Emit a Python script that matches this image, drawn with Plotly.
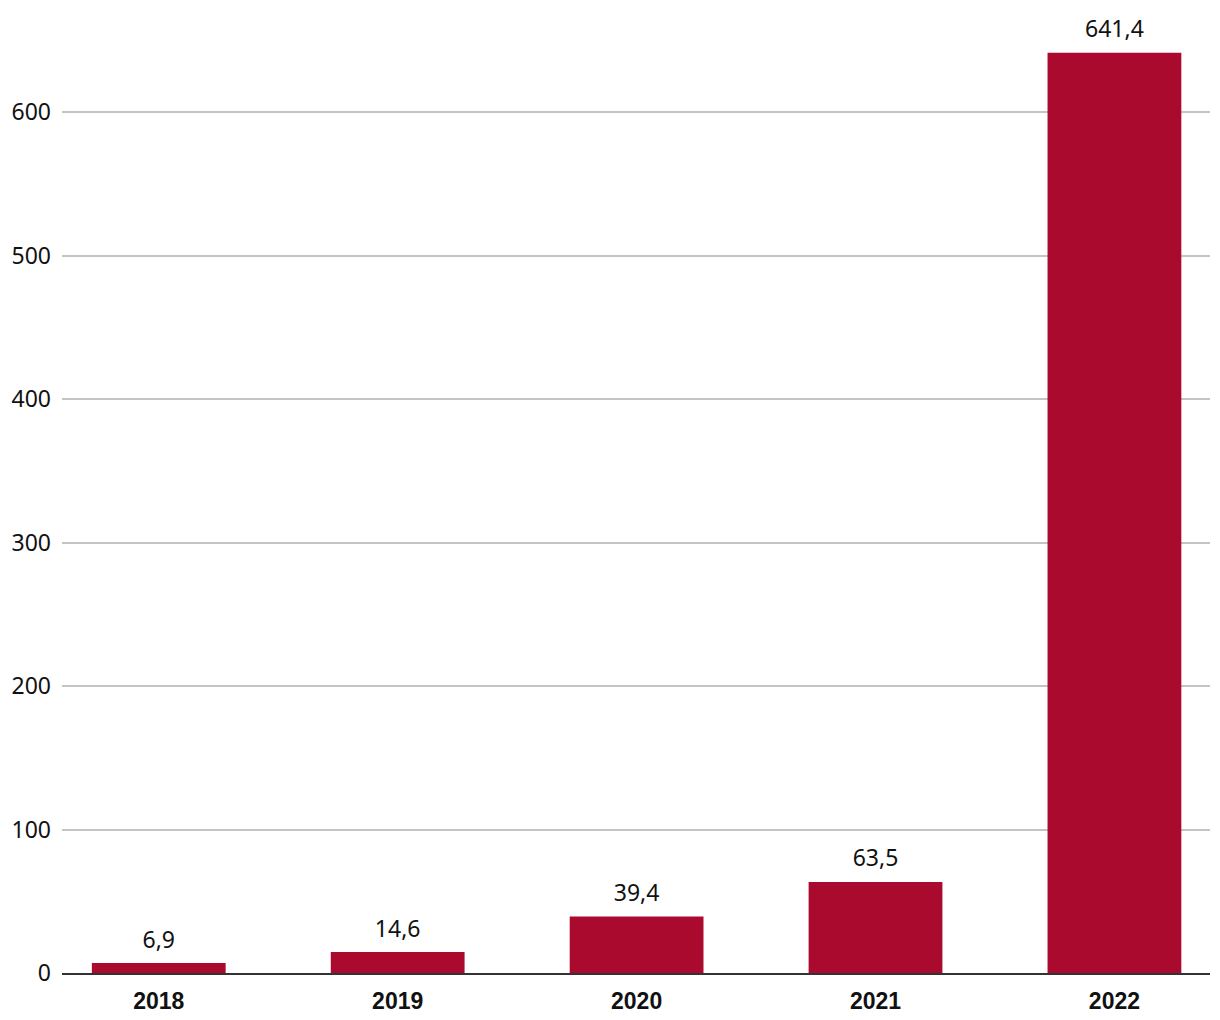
import plotly.graph_objects as go

years = ["2018", "2019", "2020", "2021", "2022"]
values = [6.9, 14.6, 39.4, 63.5, 641.4]
labels = ["6,9", "14,6", "39,4", "63,5", "641,4"]
y_ticks = [0, 100, 200, 300, 400, 500, 600]

fig = go.Figure()
fig.add_trace(go.Bar(
    x=years, y=values, width=0.56,
    marker=dict(color="#A90A2E", line=dict(width=0)),
    hoverinfo="skip",
))
fig.add_trace(go.Scatter(
    x=years, y=values, mode="markers+text", text=labels,
    textposition="top center",
    marker=dict(size=14, opacity=0),
    textfont=dict(family="Noto Sans", size=23, color="#111"),
    cliponaxis=False, hoverinfo="skip",
))

fig.update_layout(
    width=1212, height=1012,
    margin=dict(l=54, r=10, t=0, b=47),
    paper_bgcolor="white", plot_bgcolor="white",
    showlegend=False,
)
fig.update_xaxes(
    type="category", range=[-0.405, 4.4],
    showline=True, linecolor="#333", linewidth=2,
    showgrid=False, ticks="", ticklabelstandoff=6,
    tickfont=dict(family="Liberation Sans", size=23, color="#111", weight="bold"),
)
fig.update_yaxes(
    range=[0, 672.5], tickvals=y_ticks,
    showgrid=True, gridcolor="#c4c4c4", gridwidth=1.5,
    zeroline=False, showline=False, ticks="", ticklabelstandoff=10,
    tickfont=dict(family="Noto Sans", size=23, color="#111"),
)
fig.write_html("out.html")
